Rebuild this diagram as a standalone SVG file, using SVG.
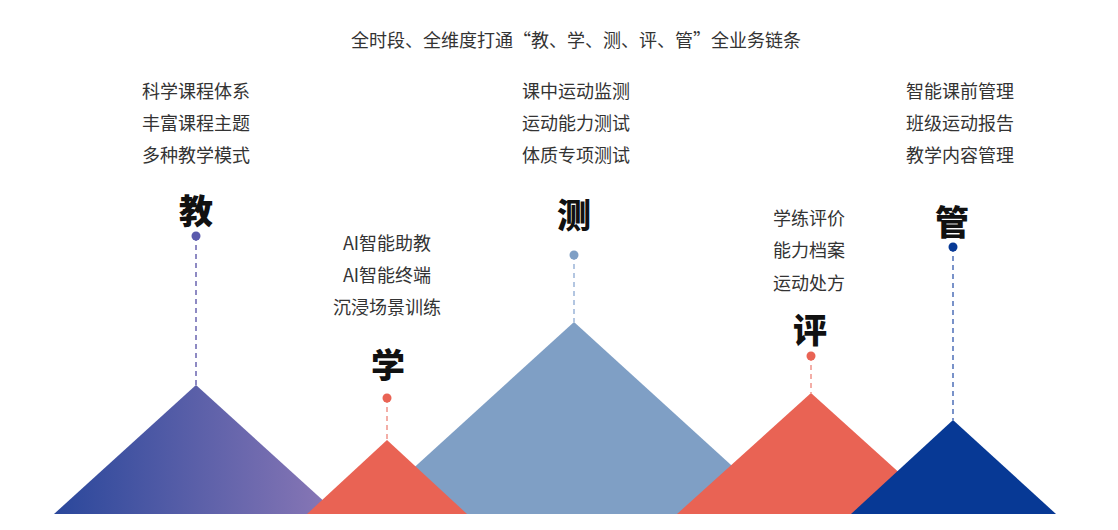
<svg xmlns="http://www.w3.org/2000/svg" width="1118" height="530" viewBox="0 0 1118 530">
  <defs>
    <linearGradient id="gPurple" x1="54" y1="0" x2="338" y2="0" gradientUnits="userSpaceOnUse">
      <stop offset="0" stop-color="#2a479b"/>
      <stop offset="1" stop-color="#8b78b6"/>
    </linearGradient>
  </defs>
  <style>
    .t { font-family: "Noto Sans CJK SC", "Noto Sans", sans-serif; font-size: 18px; fill: #333333; }
    .big { font-family: "Noto Sans CJK SC", "Noto Sans", sans-serif; font-size: 34px; font-weight: 900; fill: #111111; text-anchor: middle; }
    .mid { text-anchor: middle; }
    .dash { fill: none; stroke-width: 1.5; stroke-dasharray: 5 4; }
  </style>
  <rect width="1118" height="530" fill="#ffffff"/>

  <text class="t mid" x="576" y="47">全时段、全维度打通“教、学、测、评、管”全业务链条</text>

  <g id="mountains">
    <polygon id="m-jiao" points="54,514 196,385 338,514" fill="url(#gPurple)"/>
    <polygon id="m-ce" points="363,514 574,322 785,514" fill="#7f9fc5"/>
    <polygon id="m-xue" points="307,514 387,440 467,514" fill="#e96354"/>
    <polygon id="m-ping" points="677,514 811,393 945,514" fill="#e96354"/>
    <polygon id="m-guan" points="851,514 953,420 1056,514" fill="#073995"/>
  </g>

  <g id="connectors">
    <line class="dash" x1="196" y1="236" x2="196" y2="385" stroke="#6a64b0"/>
    <line class="dash" x1="387" y1="398" x2="387" y2="440" stroke="#f0948a"/>
    <line class="dash" x1="574" y1="255" x2="574" y2="322" stroke="#9ab4d8"/>
    <line class="dash" x1="811" y1="356" x2="811" y2="393" stroke="#f0948a"/>
    <line class="dash" x1="953" y1="247" x2="953" y2="420" stroke="#4d6fb8"/>
  </g>

  <g id="node-jiao">
    <text class="t mid" x="196" y="98">科学课程体系</text>
    <text class="t mid" x="196" y="130">丰富课程主题</text>
    <text class="t mid" x="196" y="162">多种教学模式</text>
    <text class="big" x="196" y="224">教</text>
    <circle cx="196" cy="236" r="4.5" fill="#5a5aad"/>
  </g>

  <g id="node-xue">
    <text class="t mid" x="387" y="250">AI智能助教</text>
    <text class="t mid" x="387" y="282">AI智能终端</text>
    <text class="t mid" x="387" y="314">沉浸场景训练</text>
    <text class="big" x="388" y="378">学</text>
    <circle cx="387" cy="398" r="4.5" fill="#e96354"/>
  </g>

  <g id="node-ce">
    <text class="t mid" x="576" y="98">课中运动监测</text>
    <text class="t mid" x="576" y="130">运动能力测试</text>
    <text class="t mid" x="576" y="162">体质专项测试</text>
    <text class="big" x="574" y="228">测</text>
    <circle cx="574" cy="255" r="4.5" fill="#7f9fc5"/>
  </g>

  <g id="node-ping">
    <text class="t mid" x="809" y="225">学练评价</text>
    <text class="t mid" x="809" y="257">能力档案</text>
    <text class="t mid" x="809" y="290">运动处方</text>
    <text class="big" x="810" y="343">评</text>
    <circle cx="811" cy="356" r="4.5" fill="#e96354"/>
  </g>

  <g id="node-guan">
    <text class="t mid" x="960" y="98">智能课前管理</text>
    <text class="t mid" x="960" y="130">班级运动报告</text>
    <text class="t mid" x="960" y="162">教学内容管理</text>
    <text class="big" x="952" y="235">管</text>
    <circle cx="953" cy="247" r="4.5" fill="#073995"/>
  </g>
</svg>
